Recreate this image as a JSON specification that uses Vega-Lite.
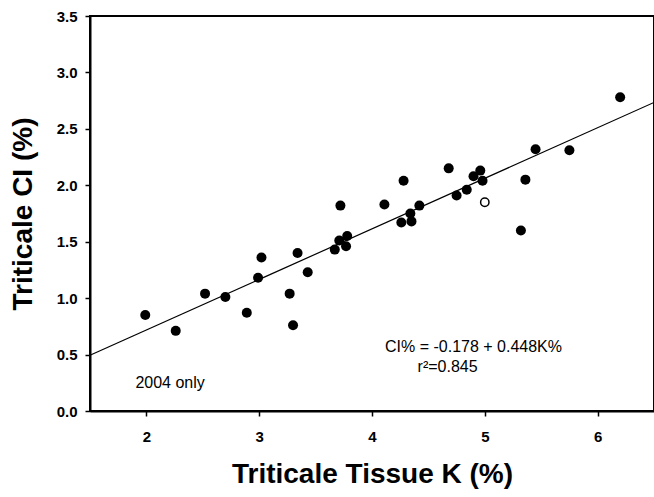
{
  "$schema": "https://vega.github.io/schema/vega-lite/v6.json",
  "width": 564,
  "height": 395,
  "autosize": {"type": "none"},
  "padding": {"left": 90, "top": 16, "right": 0, "bottom": 86},
  "background": "white",
  "config": {
    "font": "Liberation Sans",
    "view": {"stroke": "black", "strokeWidth": 2},
    "axis": {"grid": false, "domainColor": "black", "domainWidth": 2, "tickColor": "black", "tickWidth": 1.5, "tickSize": 5,
             "labelFont": "Liberation Sans", "labelFontWeight": "bold", "labelFontSize": 15, "labelColor": "black",
             "titleFont": "Liberation Sans", "titleFontWeight": "bold", "titleFontSize": 28, "titleColor": "black"}
  },
  "datasets": {
    "pts": [
      {"K": 1.99, "CI": 0.85, "kind": "2004"},
      {"K": 2.26, "CI": 0.71, "kind": "2004"},
      {"K": 2.52, "CI": 1.04, "kind": "2004"},
      {"K": 2.70, "CI": 1.01, "kind": "2004"},
      {"K": 2.89, "CI": 0.87, "kind": "2004"},
      {"K": 2.99, "CI": 1.18, "kind": "2004"},
      {"K": 3.02, "CI": 1.36, "kind": "2004"},
      {"K": 3.27, "CI": 1.04, "kind": "2004"},
      {"K": 3.30, "CI": 0.76, "kind": "2004"},
      {"K": 3.34, "CI": 1.40, "kind": "2004"},
      {"K": 3.43, "CI": 1.23, "kind": "2004"},
      {"K": 3.67, "CI": 1.43, "kind": "2004"},
      {"K": 3.71, "CI": 1.51, "kind": "2004"},
      {"K": 3.72, "CI": 1.82, "kind": "2004"},
      {"K": 3.78, "CI": 1.55, "kind": "2004"},
      {"K": 3.77, "CI": 1.46, "kind": "2004"},
      {"K": 4.11, "CI": 1.83, "kind": "2004"},
      {"K": 4.28, "CI": 2.04, "kind": "2004"},
      {"K": 4.26, "CI": 1.67, "kind": "2004"},
      {"K": 4.34, "CI": 1.75, "kind": "2004"},
      {"K": 4.35, "CI": 1.68, "kind": "2004"},
      {"K": 4.42, "CI": 1.82, "kind": "2004"},
      {"K": 4.68, "CI": 2.15, "kind": "2004"},
      {"K": 4.75, "CI": 1.91, "kind": "2004"},
      {"K": 4.84, "CI": 1.96, "kind": "2004"},
      {"K": 4.90, "CI": 2.08, "kind": "2004"},
      {"K": 4.96, "CI": 2.13, "kind": "2004"},
      {"K": 4.98, "CI": 2.04, "kind": "2004"},
      {"K": 5.32, "CI": 1.60, "kind": "2004"},
      {"K": 5.36, "CI": 2.05, "kind": "2004"},
      {"K": 5.45, "CI": 2.32, "kind": "2004"},
      {"K": 5.75, "CI": 2.31, "kind": "2004"},
      {"K": 6.20, "CI": 2.78, "kind": "2004"},
      {"K": 5.00, "CI": 1.85, "kind": "outlier"}
    ],
    "fit": [
      {"K": 1.5, "CI": 0.494},
      {"K": 6.5, "CI": 2.734}
    ],
    "notes": [
      {"K": 2.21, "CI": 0.25, "label": "2004 only"},
      {"K": 4.90, "CI": 0.57, "label": "CI% = -0.178 + 0.448K%"},
      {"K": 4.67, "CI": 0.39, "label": "r²=0.845"}
    ]
  },
  "encoding": {
    "x": {"field": "K", "type": "quantitative",
          "scale": {"domain": [1.5, 6.5], "nice": false, "zero": false},
          "axis": {"title": "Triticale Tissue K (%)", "values": [2, 3, 4, 5, 6], "format": "d", "labelPadding": 13, "titlePadding": 16}},
    "y": {"field": "CI", "type": "quantitative",
          "scale": {"domain": [0, 3.5], "nice": false, "zero": false},
          "axis": {"title": "Triticale CI (%)", "values": [0, 0.5, 1, 1.5, 2, 2.5, 3, 3.5], "format": ".1f", "labelPadding": 8, "titlePadding": 19}}
  },
  "layer": [
    {"data": {"name": "fit"}, "mark": {"type": "line", "color": "black", "strokeWidth": 1.2}},
    {"data": {"name": "pts"}, "transform": [{"filter": "datum.kind === '2004'"}],
     "mark": {"type": "point", "filled": true, "color": "black", "size": 100, "opacity": 1}},
    {"data": {"name": "pts"}, "transform": [{"filter": "datum.kind === 'outlier'"}],
     "mark": {"type": "point", "filled": false, "color": "black", "fill": "white", "fillOpacity": 1, "strokeWidth": 1.5, "size": 70, "opacity": 1}},
    {"data": {"name": "notes"},
     "mark": {"type": "text", "font": "Liberation Sans", "fontSize": 16, "color": "black", "align": "center", "baseline": "middle"},
     "encoding": {"text": {"field": "label"}}}
  ]
}
